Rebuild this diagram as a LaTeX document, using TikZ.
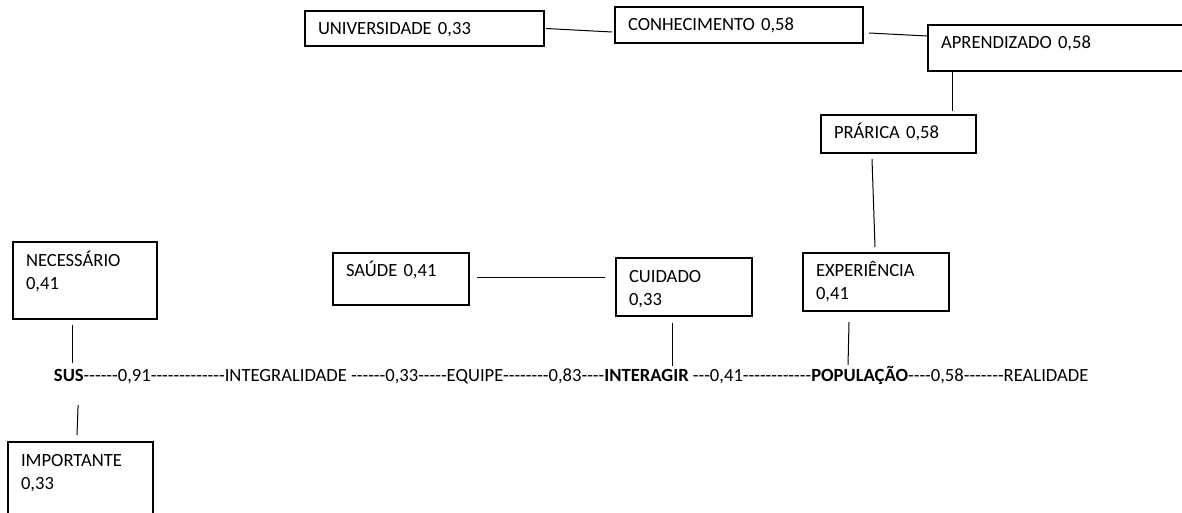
\documentclass[tikz,border=0pt]{standalone}
\usepackage{fontspec}
\setmainfont{Carlito}[Ligatures=TeXOff]
\tikzstyle{bx}=[rectangle,draw=black,line width=0.6pt,anchor=north west,outer sep=0pt,
  align=left,inner xsep=6.5pt,inner ysep=0pt,text height=12pt,
  font=\fontsize{9.3}{11.5}\selectfont]
\tikzstyle{wd}=[inner sep=0pt,outer sep=0pt,anchor=base west,font=\fontsize{9.3}{11.5}\selectfont]
\tikzstyle{wb}=[wd,font=\fontsize{9.3}{11.5}\selectfont\bfseries]
\tikzstyle{ln}=[line width=0.5pt]

\begin{document}
\begin{tikzpicture}[x=0.5pt,y=-0.5pt]
    \clip (0,0) rectangle (1182,513);
    % boxes
    \node [bx,text width=59pt,text depth=26.5pt] (nec) at (13,242) {NECESSÁRIO\\0,41};
    \node [bx,text width=59.5pt,text depth=33pt] (imp) at (8,442) {IMPORTANTE\\0,33};
    \node [bx,text width=106.5pt,text depth=5.5pt] (univ) at (305,11) {UNIVERSIDADE 0,33};
    \node [bx,text width=111pt,text depth=6pt] (conh) at (615,7) {CONHECIMENTO 0,58};
    \node [bx,text width=118pt,text depth=11pt] (apre) at (928,25) {APRENDIZADO 0,58};
    \node [bx,text width=64.5pt,text depth=7pt] (prar) at (821,115) {PRÁRICA 0,58};
    \node [bx,text width=55pt,text depth=14pt] (saude) at (333,253) {SAÚDE 0,41};
    \node [bx,text width=55pt,text depth=17pt] (cuid) at (616,258) {CUIDADO\\0,33};
    \node [bx,text width=60pt,text depth=17pt] (expe) at (803,253) {EXPERIÊNCIA\\0,41};
    % main line
    \node [wb] (sus) at (54,381) {SUS};
    \node [wd] (seg1) at (sus.base east) {------0,91-------------INTEGRALIDADE ------0,33-----EQUIPE--------0,83----};
    \node [wb] (interagir) at (seg1.base east) {INTERAGIR};
    \node [wd] (seg2) at (interagir.base east) {\ ---0,41------------};
    \node [wb] (pop) at (seg2.base east) {POPULAÇÃO};
    \node [wd] (seg3) at (pop.base east) {----0,58-------REALIDADE};
    % links
    \draw [ln,shorten >=3pt] ([shift={(-13,6)}]nec.south) coordinate (n1) to (n1 |- sus.north);
    \draw [ln,shorten >=12pt] ([shift={(-3.5,-7)}]imp.north) coordinate (i1) to ([xshift=1pt]i1 |- sus.south);
    \draw [ln] ([shift={(2,0)}]univ.east) to ([shift={(-3,7)}]conh.west);
    \draw [ln] ([shift={(6,8)}]conh.east) to ([shift={(-1,-12)}]apre.west);
    \draw [ln] ([shift={(24,0)}]apre.south west) to ([shift={(-24,-4)}]prar.north east);
    \draw [ln] ([shift={(-26.5,6)}]prar.south) to ([shift={(-1,-6)}]expe.north);
    \draw [ln] ([shift={(8,-2)}]saude.east) to ([shift={(-11,-10)}]cuid.west);
    \draw [ln,shorten >=1.5pt] ([shift={(-12,7)}]cuid.south) coordinate (c1) to (c1 |- interagir.north);
    \draw [ln,shorten >=0.5pt] ([shift={(-27,11)}]expe.south) coordinate (e1) to ([xshift=-0.5pt]e1 |- pop.north);
\end{tikzpicture}
\end{document}
